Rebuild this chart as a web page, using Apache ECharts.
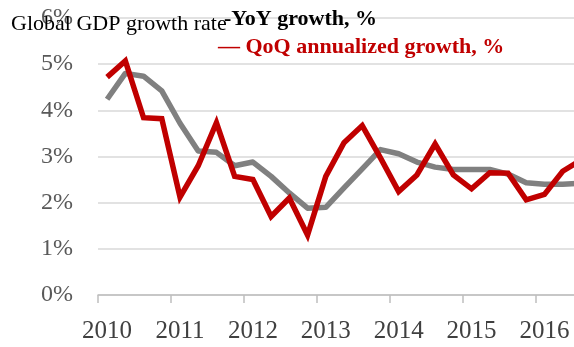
<!DOCTYPE html>
<html>
<head>
<meta charset="utf-8">
<script src="https://cdn.jsdelivr.net/npm/echarts@6/dist/echarts.min.js"></script>
<style>
  html, body { margin: 0; padding: 0; background: #fff; overflow: hidden; }
  /* the plot runs on past the right edge of the page, so the last quarter is cut off */
  #chart { width: 590px; height: 347px; }
</style>
</head>
<body>
<div id="chart"></div>
<script>
// Quarterly periods, 2010 Q1 through 2016 Q3
const quarters = [
  '2010 Q1', '2010 Q2', '2010 Q3', '2010 Q4',
  '2011 Q1', '2011 Q2', '2011 Q3', '2011 Q4',
  '2012 Q1', '2012 Q2', '2012 Q3', '2012 Q4',
  '2013 Q1', '2013 Q2', '2013 Q3', '2013 Q4',
  '2014 Q1', '2014 Q2', '2014 Q3', '2014 Q4',
  '2015 Q1', '2015 Q2', '2015 Q3', '2015 Q4',
  '2016 Q1', '2016 Q2', '2016 Q3'
];

// Year-over-year growth, %
const yoyGrowth = [
  4.24, 4.80, 4.74, 4.42,
  3.72, 3.12, 3.09, 2.80,
  2.88, 2.57, 2.21, 1.88,
  1.90, 2.32, 2.73, 3.15,
  3.06, 2.88, 2.77, 2.72,
  2.72, 2.72, 2.62, 2.43,
  2.40, 2.40, 2.42
];

// Quarter-over-quarter annualized growth, %
const qoqGrowth = [
  4.72, 5.07, 3.84, 3.82,
  2.12, 2.80, 3.73, 2.57,
  2.50, 1.70, 2.10, 1.30,
  2.57, 3.30, 3.67, 2.97,
  2.24, 2.60, 3.27, 2.60,
  2.30, 2.65, 2.64, 2.06,
  2.18, 2.68, 2.92
];

// Value axis ticks (percent)
const yTicks = [0, 1, 2, 3, 4, 5, 6];

const serif = 'Liberation Serif, Times New Roman, serif';

const chart = echarts.init(document.getElementById('chart'), null, { renderer: 'canvas' });

chart.setOption({
  animation: false,
  backgroundColor: '#ffffff',
  title: [
    {
      text: 'Global GDP growth rate',
      left: 11, top: 13, padding: 0,
      textStyle: { fontFamily: serif, fontSize: 22, fontWeight: 'normal', color: '#000000' }
    },
    {
      text: '-YoY growth, %',
      left: 224, top: 8, padding: 0,
      textStyle: { fontFamily: serif, fontSize: 22, fontWeight: 'bold', color: '#000000' }
    },
    {
      text: '\u2014 QoQ annualized growth, %',
      left: 218, top: 36, padding: 0,
      textStyle: { fontFamily: serif, fontSize: 22, fontWeight: 'bold', color: '#C00000' }
    }
  ],
  grid: { left: 98, right: 0, top: 18, bottom: 52, containLabel: false },
  xAxis: {
    type: 'category',
    data: quarters,
    boundaryGap: true,
    axisLine: { show: true, lineStyle: { color: '#bfbfbf', width: 1.5 } },
    axisTick: { show: true, interval: 3, length: 8, lineStyle: { color: '#bfbfbf', width: 1.5 } },
    axisLabel: {
      interval: 3,
      margin: 24,
      fontFamily: serif,
      fontSize: 25,
      color: '#404040',
      formatter: (v) => v.slice(0, 4)
    },
    splitLine: { show: false }
  },
  yAxis: {
    type: 'value',
    min: yTicks[0],
    max: yTicks[yTicks.length - 1],
    interval: 1,
    axisLine: { show: false },
    axisTick: { show: false },
    axisLabel: {
      margin: 25,
      fontFamily: serif,
      fontSize: 24,
      color: '#595959',
      formatter: '{value}%'
    },
    splitLine: { show: true, lineStyle: { color: '#d9d9d9', width: 1.5 } }
  },
  series: [
    {
      name: 'YoY growth, %',
      type: 'line',
      data: yoyGrowth,
      symbol: 'none',
      lineStyle: { color: '#808080', width: 5.5, join: 'round', cap: 'butt' },
      z: 2
    },
    {
      name: 'QoQ annualized growth, %',
      type: 'line',
      data: qoqGrowth,
      symbol: 'none',
      lineStyle: { color: '#C00000', width: 5.5, join: 'miter', cap: 'butt' },
      z: 3
    }
  ]
});
</script>
</body>
</html>
